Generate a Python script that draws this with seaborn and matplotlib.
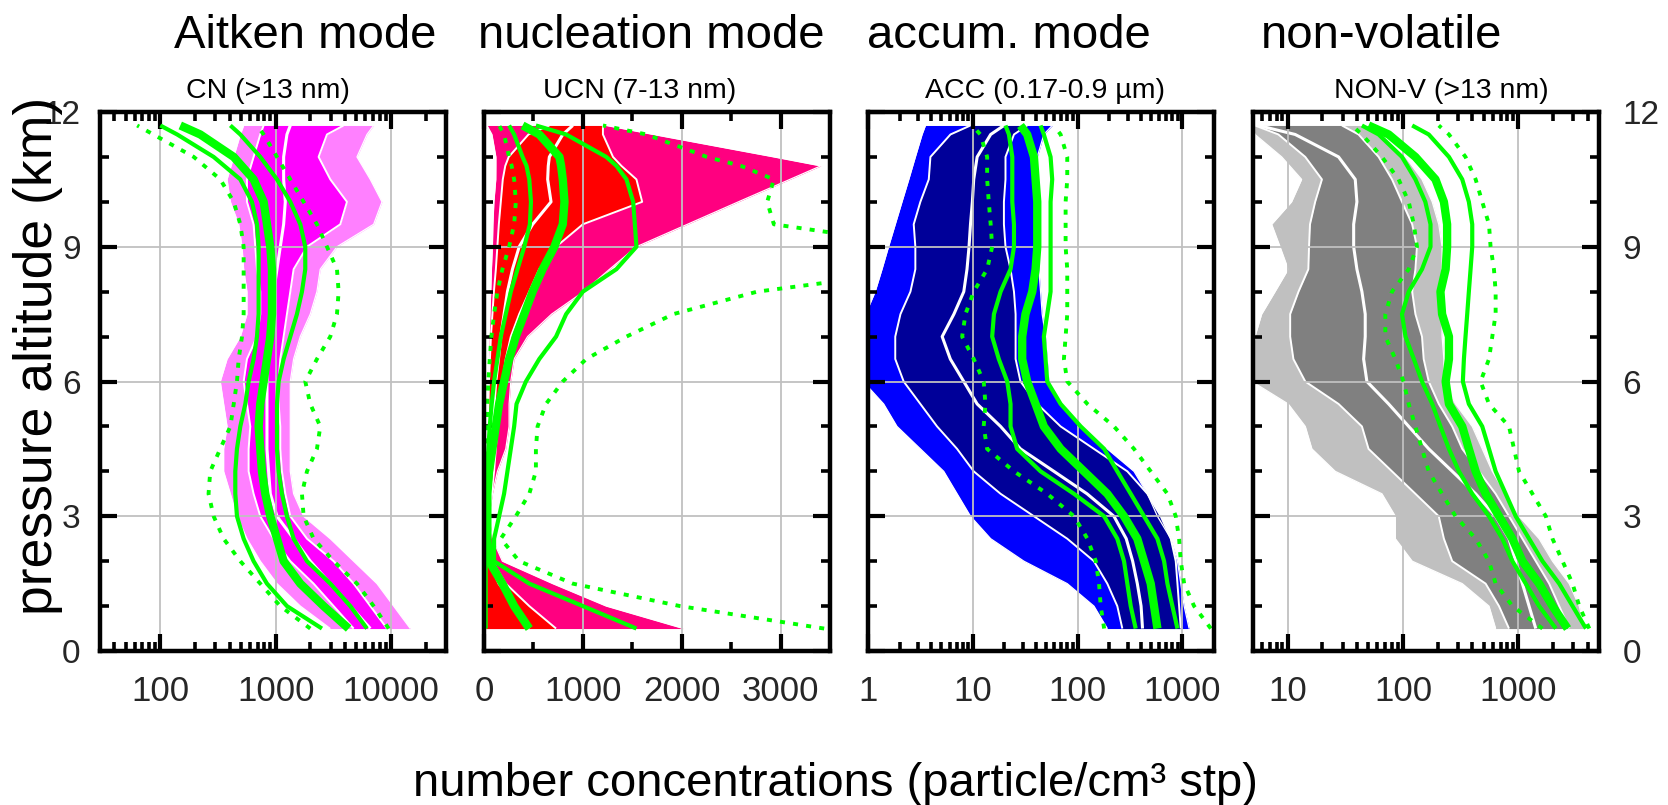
import numpy as np
import pandas as pd
import matplotlib
matplotlib.use("Agg")
import matplotlib.pyplot as plt
import matplotlib.ticker as mticker
import seaborn as sns

sns.set_theme(style="white")
plt.rcParams["font.family"] = ["Liberation Sans", "DejaVu Sans"]

# ---------------------------------------------------------------- data
# altitude levels (km) of the vertical profiles
altitude = [0.5, 1, 1.5, 2, 2.5, 3, 3.5, 4, 4.5, 5, 5.5, 6, 6.5, 7, 7.5, 8,
            8.5, 9, 9.5, 10, 10.5, 11, 11.5, 11.7]
altitude_ucn = [0.5, 1, 1.5, 2, 2.5, 3, 3.5, 4, 4.5, 5, 5.5, 6, 6.5, 7, 7.5, 8,
                8.5, 9, 9.5, 10, 10.5, 10.8, 11, 11.5, 11.7]

# CN (>13 nm) -- observed percentiles
cn_p10 = [2978, 1636, 1027, 736, 564, 462, 405, 354, 354, 379, 354, 331, 379, 494, 564, 564, 528, 511, 478, 405, 379, 433, 494, 528]
cn_p25 = [4746, 3183, 2134, 1340, 961, 736, 644, 583, 583, 603, 564, 528, 564, 689, 736, 736, 689, 666, 644, 564, 564, 644, 736, 787]
cn_p50 = [6620, 4440, 2978, 1997, 1432, 1027, 899, 869, 841, 841, 841, 841, 841, 899, 929, 961, 1027, 1097, 1173, 1213, 1173, 1173, 1253, 1340]
cn_p75 = [9237, 6620, 4746, 3183, 1869, 1340, 1213, 1134, 1097, 1097, 1062, 1062, 1097, 1173, 1253, 1340, 1432, 1869, 3636, 4154, 2978, 2358, 2786, 3886]
cn_p90 = [14710, 10550, 7564, 4746, 2978, 1748, 1432, 1340, 1340, 1340, 1340, 1340, 1432, 1636, 1997, 2281, 2438, 3402, 7077, 8359, 6620, 5073, 6194, 7077]
# CN (>13 nm) -- model percentiles
cn_m10 = [1997, 1097, 736, 494, 354, 290, 262, 271, 331, 405, 433, 462, 478, 511, 528, 528, 528, 528, 494, 433, 331, 195, 87, 63]
cn_m25 = [2521, 1253, 841, 644, 528, 462, 447, 447, 462, 494, 546, 583, 644, 689, 712, 712, 712, 712, 689, 623, 494, 290, 140, 100]
cn_m50 = [4295, 2606, 1636, 1173, 1027, 899, 813, 761, 736, 712, 736, 787, 841, 899, 929, 929, 929, 899, 841, 787, 644, 433, 222, 149]
cn_m75 = [6194, 4440, 2978, 1869, 1432, 1253, 1134, 1062, 1027, 1027, 1027, 1062, 1173, 1340, 1530, 1691, 1807, 1807, 1636, 1340, 1027, 736, 494, 405]
cn_m90 = [9545, 7077, 5073, 3183, 2134, 1748, 1691, 1869, 2281, 2438, 1997, 1807, 2281, 2978, 3402, 3517, 3402, 2786, 2281, 1748, 1340, 1027, 787, 689]

# UCN (7-13 nm) -- observed percentiles
ucn_p10 = [17, 17, 17, 17, 17, 17, 20, 25, 30, 34, 34, 40, 45, 51, 60, 68, 75, 85, 90, 100, 119, 120, 120, 80, 30]
ucn_p25 = [20, 20, 20, 20, 20, 22, 25, 30, 35, 40, 45, 50, 60, 70, 85, 100, 120, 135, 150, 170, 190, 215, 250, 450, 661]
ucn_p50 = [458, 322, 153, 51, 34, 34, 44, 51, 68, 85, 102, 119, 146, 170, 203, 237, 288, 356, 492, 678, 644, 650, 661, 797, 898]
ucn_p75 = [729, 458, 220, 85, 51, 51, 78, 102, 119, 136, 163, 186, 220, 271, 356, 458, 559, 729, 1000, 1600, 1542, 1390, 1305, 1203, 1203]
ucn_p90 = [2017, 1237, 695, 186, 85, 51, 85, 136, 220, 254, 254, 271, 305, 441, 684, 1007, 1271, 1542, 2058, 2573, 3095, 3407, 2932, 1712, 1237]
# UCN (7-13 nm) -- model percentiles
ucn_m10 = [10, 10, 10, 10, 10, 14, 17, 20, 24, 27, 34, 44, 58, 75, 102, 136, 186, 254, 305, 322, 305, 280, 254, 203, 153]
ucn_m25 = [17, 17, 17, 17, 20, 24, 27, 34, 44, 58, 78, 102, 136, 170, 220, 271, 339, 407, 464, 475, 458, 430, 390, 305, 254]
ucn_m50 = [458, 305, 186, 51, 34, 34, 34, 51, 85, 119, 153, 203, 254, 322, 407, 492, 593, 712, 797, 814, 797, 780, 763, 559, 390]
ucn_m75 = [1542, 1000, 458, 102, 102, 153, 203, 237, 271, 305, 329, 424, 559, 729, 831, 1000, 1339, 1542, 1526, 1509, 1441, 1340, 1237, 831, 525]
ucn_m90 = [3441, 1983, 898, 356, 170, 322, 458, 525, 525, 542, 627, 797, 1034, 1441, 1915, 2763, 4500, 4500, 2932, 2865, 2932, 2600, 2254, 1644, 1203]

# ACC (0.17-0.9 um) -- observed percentiles
acc_p10 = [192, 143, 79.6, 30.7, 14.8, 9.5, 7.08, 5.28, 3.16, 1.89, 1.41, 0.9, 0.9, 0.9, 0.95, 1.17, 1.36, 1.57, 1.82, 2.11, 2.45, 2.83, 3.28, 3.53]
acc_p25 = [267, 239, 192, 143, 79.6, 38.3, 18.4, 10.2, 7.08, 4.56, 3.16, 2.19, 1.82, 1.82, 2.04, 2.54, 2.83, 2.83, 2.73, 3.16, 3.80, 3.94, 6.12, 9.50]
acc_p50 = [416, 403, 371, 335, 291, 222, 123, 59.4, 28.5, 18.4, 11.0, 8.2, 6.1, 5.1, 6.6, 8.2, 8.8, 9.2, 9.5, 9.9, 10.2, 11.0, 14.8, 19.8]
acc_p75 = [964, 929, 896, 863, 774, 621, 463, 298, 143, 68.8, 41.2, 28.5, 25.6, 25.6, 25.6, 24.7, 22.9, 20.5, 19.8, 19.8, 20.5, 20.5, 24.7, 33.0]
acc_p90 = [1158, 1038, 964, 896, 774, 577, 463, 345, 192, 107, 68.8, 53.2, 51.3, 49.4, 45.9, 44.3, 42.7, 41.2, 41.2, 41.2, 41.2, 41.2, 47.6, 57.2]
# ACC (0.17-0.9 um) -- model percentiles
acc_m10 = [179, 166, 160, 149, 124, 92.2, 51.3, 24.7, 13.7, 12.7, 13.2, 12.7, 10.2, 7.91, 8.51, 10.2, 13.7, 15.3, 14.8, 14.2, 13.7, 13.7, 11.8, 9.86]
acc_m25 = [358, 321, 298, 277, 239, 179, 92.2, 44.3, 26.5, 22.9, 22.9, 21.3, 17.7, 15.3, 15.9, 18.4, 22.9, 24.7, 24.7, 23.8, 23.8, 23.8, 22.1, 20.5]
acc_m50 = [577, 536, 498, 430, 371, 277, 192, 115, 68.8, 47.6, 39.7, 33.0, 29.6, 29.6, 31.8, 36.9, 39.7, 41.2, 41.2, 41.2, 39.7, 38.3, 33.0, 28.5]
acc_m75 = [896, 802, 719, 668, 577, 430, 321, 239, 179, 107, 68.8, 51.3, 49.4, 47.6, 51.3, 55.2, 55.2, 55.2, 55.2, 55.2, 57.2, 55.2, 47.6, 44.3]
acc_m90 = [1866, 1291, 1038, 964, 929, 863, 719, 498, 345, 222, 124, 79.6, 74.0, 76.8, 79.6, 79.6, 79.6, 76.8, 76.8, 76.8, 79.6, 79.6, 68.8, 59.4]

# NON-V (>13 nm) -- observed percentiles
nv_p10 = [635, 556, 326, 120, 85.7, 85.7, 65.6, 25.8, 16.2, 14.2, 10.1, 4.9, 4.9, 5.2, 5.94, 7.76, 10.1, 8.58, 7.26, 10.8, 13.2, 8.87, 5.2, 4.9]
nv_p25 = [829, 679, 520, 267, 226, 204, 128, 80.2, 50.2, 44.0, 27.6, 14.2, 11.2, 10.5, 10.5, 12.4, 15.1, 15.3, 15.6, 17.3, 19.8, 14.2, 8.30, 5.20]
nv_p50 = [1415, 1238, 1083, 948, 829, 635, 426, 267, 167, 112, 75.0, 48.6, 45.5, 47.0, 47.0, 44.0, 39.8, 37.3, 37.3, 39.8, 38.5, 27.6, 11.6, 5.56]
nv_p75 = [2759, 2259, 1849, 1415, 1083, 829, 635, 455, 326, 267, 204, 167, 151, 146, 128, 120, 128, 132, 120, 97.9, 80.2, 61.4, 41.1, 29.5]
nv_p90 = [3726, 3371, 2759, 1976, 1513, 1013, 776, 594, 486, 398, 285, 226, 226, 218, 218, 218, 218, 218, 204, 179, 146, 105, 65.6, 50.2]
# NON-V (>13 nm) -- model percentiles
nv_m10 = [1617, 887, 635, 556, 426, 285, 218, 167, 146, 128, 112, 101, 85.7, 70.2, 70.2, 80.2, 112, 132, 124, 112, 91.6, 65.6, 44.0, 36.1]
nv_m25 = [2113, 1513, 1158, 887, 726, 556, 398, 305, 250, 211, 179, 146, 124, 105, 97.9, 112, 146, 173, 173, 156, 128, 97.9, 61.4, 44.0]
nv_m50 = [2669, 1976, 1513, 1083, 887, 679, 520, 426, 372, 326, 250, 234, 250, 250, 218, 211, 234, 241, 241, 226, 191, 128, 75.0, 50.2]
nv_m75 = [3852, 2949, 2259, 1617, 1238, 948, 776, 635, 556, 486, 372, 330, 337, 348, 360, 372, 385, 398, 398, 372, 326, 250, 167, 120]
nv_m90 = [4118, 3371, 2949, 2415, 1976, 1729, 1324, 1013, 917, 829, 556, 470, 556, 594, 635, 635, 614, 574, 556, 486, 426, 348, 250, 204]

mode_titles = ["Aitken mode", "nucleation mode", "accum. mode", "non-volatile"]
sub_titles = ["CN (>13 nm)", "UCN (7-13 nm)", "ACC (0.17-0.9 µm)", "NON-V (>13 nm)"]
x_ticks = [[100, 1000, 10000], [0, 1000, 2000, 3000], [1, 10, 100, 1000], [10, 100, 1000]]
x_limits = [(30, 30000), (0, 3500), (1, 2000), (5, 5000)]
x_scales = ["log", "linear", "log", "log"]
y_ticks = [0, 3, 6, 9, 12]

panels = [
    dict(alt=altitude, obs=[cn_p10, cn_p25, cn_p50, cn_p75, cn_p90],
         mod=[cn_m10, cn_m25, cn_m50, cn_m75, cn_m90], outer="#FF80FF", inner="#FF00FF"),
    dict(alt=altitude_ucn, obs=[ucn_p10, ucn_p25, ucn_p50, ucn_p75, ucn_p90],
         mod=[ucn_m10, ucn_m25, ucn_m50, ucn_m75, ucn_m90], outer="#FF0080", inner="#FF0000"),
    dict(alt=altitude, obs=[acc_p10, acc_p25, acc_p50, acc_p75, acc_p90],
         mod=[acc_m10, acc_m25, acc_m50, acc_m75, acc_m90], outer="#0000FF", inner="#000099"),
    dict(alt=altitude, obs=[nv_p10, nv_p25, nv_p50, nv_p75, nv_p90],
         mod=[nv_m10, nv_m25, nv_m50, nv_m75, nv_m90], outer="#C0C0C0", inner="#808080"),
]

# ---------------------------------------------------------------- figure
W, H = 1668, 805
fig = plt.figure(figsize=(W / 100, H / 100), dpi=100)
ax_left_px = [100, 484, 868, 1253]
ax_w_px = 346
ax_top_px, ax_bot_px = 112, 651

GREEN = "#00FF00"
model_styles = [
    dict(linewidth=2.8, dashes=(1.3, 2.1)),   # 10th percentile
    dict(linewidth=3.0, dashes=None),         # 25th
    dict(linewidth=6.0, dashes=None),         # median
    dict(linewidth=3.0, dashes=None),         # 75th
    dict(linewidth=2.8, dashes=(1.3, 2.1)),   # 90th
]
obs_white = [0.9, 1.4, 2.2, 1.4, 0.9]
TICK_FONT = ["Liberation Sans Narrow", "Liberation Sans"]


def profile_line(ax, x, y, color, lw, z, dashes=None):
    df = pd.DataFrame({"conc": x, "alt": y})
    sns.lineplot(data=df, x="conc", y="alt", orient="y", sort=False,
                 estimator=None, color=color, linewidth=lw, ax=ax, zorder=z)
    ln = ax.lines[-1]
    ln.set_solid_capstyle("butt")
    if dashes is not None:
        ln.set_dashes(dashes)
        ln.set_dash_capstyle("butt")


axes = []
for i, p in enumerate(panels):
    ax = fig.add_axes([ax_left_px[i] / W, 1 - ax_bot_px / H,
                       ax_w_px / W, (ax_bot_px - ax_top_px) / H])
    axes.append(ax)
    alt = p["alt"]
    p10, p25, p50, p75, p90 = p["obs"]

    ax.fill_betweenx(alt, p10, p90, color=p["outer"], linewidth=0, zorder=1)
    ax.fill_betweenx(alt, p25, p75, color=p["inner"], linewidth=0, zorder=1.2)
    for series, lw in zip(p["obs"], obs_white):
        profile_line(ax, series, alt, "white", lw, 1.5)

    for series, st in zip(p["mod"], model_styles):
        profile_line(ax, series, alt, GREEN, st["linewidth"], 3, st["dashes"])

    ax.set_xscale(x_scales[i])
    ax.set_xlim(*x_limits[i])
    ax.set_ylim(0, 12)
    ax.set_xlabel("")
    ax.set_ylabel("")

    ax.xaxis.set_major_locator(mticker.FixedLocator(x_ticks[i]))
    ax.xaxis.set_major_formatter(mticker.FixedFormatter([str(t) for t in x_ticks[i]]))
    if x_scales[i] == "log":
        ax.xaxis.set_minor_locator(mticker.LogLocator(base=10, subs=np.arange(2, 10), numticks=30))
    else:
        ax.xaxis.set_minor_locator(mticker.MultipleLocator(500))
    ax.xaxis.set_minor_formatter(mticker.NullFormatter())
    ax.yaxis.set_major_locator(mticker.FixedLocator(y_ticks))
    ax.yaxis.set_minor_locator(mticker.MultipleLocator(1))

    ax.set_axisbelow(False)
    ax.grid(True, which="major", color="#C0C0C0", linewidth=1.3, zorder=2.5)
    ax.grid(False, which="minor")

    for s in ax.spines.values():
        s.set_linewidth(3.2)
        s.set_color("black")
        s.set_zorder(4)

    ax.tick_params(which="both", direction="in", top=True, right=True,
                   bottom=True, left=True, color="black")
    ax.tick_params(which="major", length=12, width=3.0)
    ax.tick_params(which="minor", length=6.5, width=2.6)
    ax.tick_params(axis="x", which="major", labelsize=25, pad=17)
    ax.tick_params(axis="y", which="major", labelsize=24,
                   labelleft=(i == 0), labelright=(i == 3), pad=14)
    if i == 3:
        ax.tick_params(axis="y", which="major", pad=17)
    for lbl in ax.get_xticklabels():
        lbl.set_fontfamily(TICK_FONT)

# panel headings
title_x = [305, 651, 1009, 1382]
sub_x = [268, 640, 1045, 1441]
for i in range(4):
    fig.text(title_x[i] / W, 1 - 48 / H, mode_titles[i], ha="center", va="baseline",
             fontsize=34, color="black")
    fig.text(sub_x[i] / W, 1 - 98 / H, sub_titles[i], ha="center", va="baseline",
             fontsize=20.5, color="black")

fig.text(38 / W, 1 - 356 / H, "pressure altitude (km)", rotation=90,
         ha="center", va="center", fontsize=38.5, color="black")
fig.text(835 / W, 1 - 784 / H, "number concentrations (particle/cm³ stp)",
         ha="center", va="center", fontsize=34, color="black")

fig.savefig("out.png", dpi=100, facecolor="white")
